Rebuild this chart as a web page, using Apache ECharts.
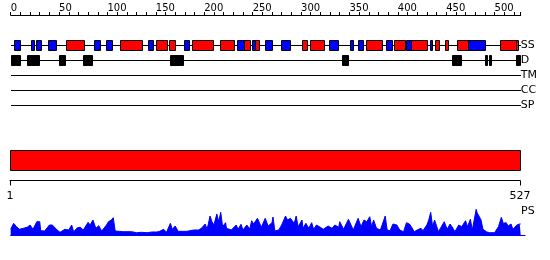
<!DOCTYPE html>
<html><head><meta charset="utf-8">
<script src="https://cdn.jsdelivr.net/npm/echarts@6/dist/echarts.min.js"></script>
<style>html,body{margin:0;padding:0;background:#fff}#c{width:550px;height:260px}</style>
</head><body><div id="c"></div>
<script>
// ---------------- data ----------------
const proteinLength = 527;
const trackNames = ['SS', 'D', 'TM', 'CC', 'SP'];
const endTickValues = [1, 527];

// secondary structure segments (H = helix, E = strand)
const ssStart = [3,21,26,39,57,86,98,113,142,150,164,179,187,216,234,241,249,252,263,279,301,309,329,351,359,367,388,396,408,414,433,438,449,461,473,506,522];
const ssEnd   = [10,24,31,47,76,92,105,136,147,161,170,184,209,231,241,247,252,257,270,289,306,324,338,354,364,384,394,407,414,430,435,443,452,473,490,522,524];
const ssType  = ['E','E','E','E','H','E','E','H','E','H','H','E','H','H','E','H','E','H','E','E','H','H','E','E','E','H','E','H','E','H','E','H','H','H','E','H','H'];

// disorder segments
const disStart = [0,17,50,75,165,342,456,490,494,522];
const disEnd   = [10,29,56,84,178,349,465,492,496,526];

// PS profile
const psPos = [0,3,6,9,13,17,20,23,27,30,31,35,40,43,48,51,56,60,63,65,69,72,75,80,82,85,88,91,94,99,101,104,106,108,116,125,130,135,141,146,151,154,158,161,165,167,170,173,178,182,184,189,194,197,201,203,206,208,210,213,215,217,219,222,223,228,233,235,238,240,244,247,249,251,255,257,259,263,266,270,271,273,277,280,284,286,289,291,293,295,297,301,302,305,308,311,313,316,320,323,328,332,335,339,340,344,349,351,354,359,362,365,368,371,373,375,378,382,387,389,392,395,399,402,406,409,412,414,417,420,424,426,430,432,434,436,438,442,445,448,451,454,457,459,463,466,470,472,475,477,481,482,484,486,488,492,495,500,504,507,509,512,514,517,519,523,526,527];
const psVal = [5.7,11.7,8.3,5.7,6.7,7.7,10,5.7,13.3,13.3,4.3,4,10,10,5,2.7,5.7,5,10,3.3,7.3,7.7,5,12.7,10,15,6.7,9.3,4,10,13.3,15,17.3,4,3.3,3.3,2.3,2.7,2.3,3,3,3.7,5.7,2.7,11.7,5.7,9,3.7,3.7,3.7,5.7,5,5,6.7,11,5.7,19,13.3,10,21,13.3,22.7,8.3,12.3,6.7,5,10,5.7,10.7,5,10,6,14.3,11,16.7,16.7,7.7,16.7,9,12.3,18,4,5,10,19,15,16.7,18.3,11.7,19,8.3,15,6.7,11.7,6.7,12.3,5.7,10,7.7,5.7,9,6.7,10,7.7,13.3,5.7,15.7,14.3,5,16.7,8.3,15,13.3,18.3,8.3,15,6.7,5,19,5,4.3,11,10,5,3.3,12.3,11,8.3,3.3,5,6.7,4.3,10,15,22.7,8.3,15,3.3,8.3,13.3,5.7,11,6.7,3.3,10,8.3,14.3,8.3,15.7,5,25.7,22.3,23.3,15,5.7,3,2.3,2.3,8.3,17.7,11.7,12.3,9,11,5.7,10,11,11];

// ---------------- layout ----------------
const X0 = 10.7;          // px of residue 0
const K = 510 / 527;      // px per residue
const FONT = 'DejaVu Sans';

const chart = echarts.init(document.getElementById('c'), null, {renderer: 'canvas'});

function rowLines(params, api) {
  const a = api.coord([api.value(0), api.value(2)]);
  const b = api.coord([api.value(1), api.value(2)]);
  const y = Math.floor(a[1]) + 0.5;
  return {type: 'line', shape: {x1: Math.round(a[0]), y1: y, x2: Math.round(b[0]), y2: y},
          style: {stroke: '#000', lineWidth: 1}};
}
function boxes(params, api) {
  const a = api.coord([api.value(0), api.value(2)]);
  const b = api.coord([api.value(1), api.value(2)]);
  const x1 = Math.round(a[0]) + 0.5, x2 = Math.round(b[0]) + 0.5;
  const cy = Math.floor(a[1]) + 0.5;
  const t = api.value(3);
  const fill = t === 1 ? '#ff0000' : (t === 2 ? '#0000ff' : '#000000');
  return {type: 'rect', shape: {x: x1, y: cy - 5, width: Math.max(x2 - x1, 1), height: 10},
          style: {fill: fill, stroke: '#000', lineWidth: 1}};
}

const lineData = trackNames.map((n, i) => [0, proteinLength, i]);
const ssData = ssStart.map((s, i) => [s, ssEnd[i], 0, ssType[i] === 'H' ? 1 : 2]);
const disData = disStart.map((s, i) => [s, disEnd[i], 1, 0]);

chart.setOption({
  animation: false,
  backgroundColor: '#fff',
  grid: [
    {left: X0, width: 527 * K, top: 38, height: 75},
    {left: 10, width: 510, top: 150.5, height: 20},
    {left: X0, width: (proteinLength + 4.5) * K, top: 209, height: 26}
  ],
  xAxis: [
    {gridIndex: 0, type: 'value', position: 'top', offset: 23, min: 0, max: proteinLength, interval: 10,
     axisLine: {show: true, onZero: false, lineStyle: {color: '#000', width: 1}},
     axisTick: {show: true, length: 3, lineStyle: {color: '#000', width: 1}},
     axisLabel: {formatter: v => (v % 50 === 0 ? String(v) : ''), align: 'left', margin: 2,
                 fontSize: 10, fontFamily: FONT, color: '#000'},
     splitLine: {show: false}},
    {gridIndex: 1, type: 'value', position: 'bottom', offset: 10, min: 1, max: proteinLength,
     axisLine: {show: true, onZero: false, lineStyle: {color: '#000', width: 1}},
     axisTick: {show: true, length: 5, customValues: endTickValues, lineStyle: {color: '#000', width: 1}},
     axisLabel: {customValues: endTickValues, margin: 10, fontSize: 11, fontFamily: FONT, color: '#000'},
     splitLine: {show: false}},
    {gridIndex: 2, type: 'value', min: 0, max: proteinLength + 4.5,
     axisLine: {show: true, onZero: false, lineStyle: {color: '#0000ff', width: 1}},
     axisTick: {show: false}, axisLabel: {show: false}, splitLine: {show: false}}
  ],
  yAxis: [
    {gridIndex: 0, type: 'category', data: trackNames, inverse: true, position: 'right',
     axisLine: {show: false}, axisTick: {show: false}, splitLine: {show: false},
     axisLabel: {margin: 0, align: 'left', fontSize: 11, fontFamily: FONT, color: '#000'}},
    {gridIndex: 1, type: 'value', min: 0, max: 1, show: false},
    {gridIndex: 2, type: 'value', min: 0, max: 26, show: false}
  ],
  graphic: [
    {type: 'text', left: 521, top: 206, style: {text: 'PS', font: '11px "DejaVu Sans"', fill: '#000'}}
  ],
  series: [
    {type: 'custom', xAxisIndex: 0, yAxisIndex: 0, renderItem: rowLines, data: lineData,
     encode: {x: [0, 1], y: 2}, z: 1},
    {type: 'custom', xAxisIndex: 0, yAxisIndex: 0, renderItem: boxes, data: ssData,
     encode: {x: [0, 1], y: 2}, z: 2},
    {type: 'custom', xAxisIndex: 0, yAxisIndex: 0, renderItem: boxes, data: disData,
     encode: {x: [0, 1], y: 2}, z: 2},
    {type: 'custom', xAxisIndex: 1, yAxisIndex: 1,
     renderItem: function (params, api) {
       const a = api.coord([api.value(0), 0]);
       const b = api.coord([api.value(1), 1]);
       return {type: 'rect', shape: {x: Math.round(a[0]) + 0.5, y: Math.floor(b[1]) + 0.5,
               width: Math.round(b[0]) - Math.round(a[0]), height: Math.round(a[1] - b[1])},
               style: {fill: '#ff0000', stroke: '#000', lineWidth: 1}};
     },
     data: [[1, proteinLength]], encode: {x: [0, 1]}},
    {type: 'line', xAxisIndex: 2, yAxisIndex: 2, showSymbol: false, symbol: 'none',
     data: psPos.map((p, i) => [p, psVal[i]]),
     lineStyle: {color: '#0000ff', width: 1}, areaStyle: {color: '#0000ff', opacity: 1}}
  ]
});
</script>
</body></html>
